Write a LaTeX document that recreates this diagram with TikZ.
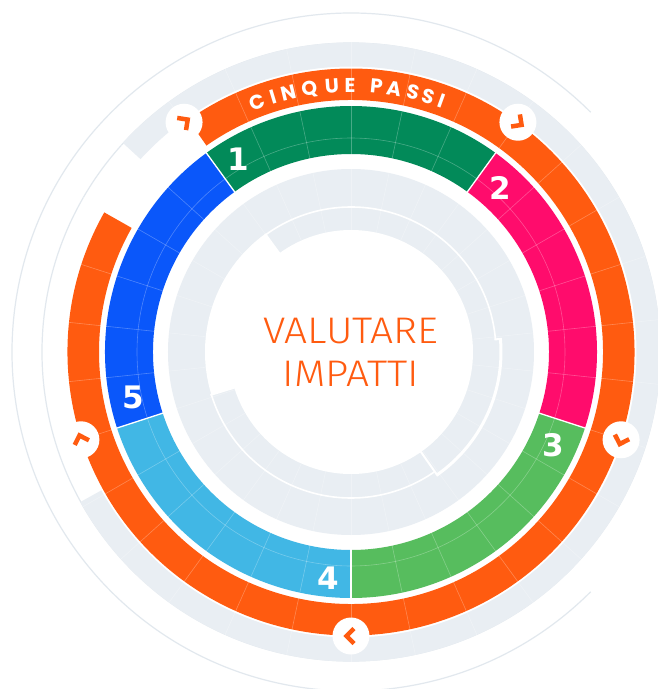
\documentclass[tikz,border=0pt]{standalone}
\usepackage{fontspec}
\newfontfamily\digitfont{DejaVu Sans}
\newfontfamily\popfont{Poppins}
\newfontfamily\lightfont{Fira Sans}[UprightFont=* Light]
\definecolor{cOr}{HTML}{FF5B10}
\definecolor{cGa}{HTML}{028A59}
\definecolor{cPk}{HTML}{FF0C6C}
\definecolor{cGb}{HTML}{57BD5E}
\definecolor{cCy}{HTML}{41B7E5}
\definecolor{cBl}{HTML}{0A57FA}
\definecolor{cGy}{HTML}{E9EEF3}
\definecolor{cLn}{HTML}{E2E8EE}
\newcommand\myband[5]{\fill[#5] (#1:#4) arc[start angle=#1,end angle=#2,radius=#4] -- (#2:#3) arc[start angle=#2,end angle=#1,radius=#3] -- cycle;}
\begin{document}
\begin{tikzpicture}[x=1pt,y=1pt,
  gridl/.style={white,opacity=0.28,line width=0.6pt},
  thinl/.style={cLn,line width=1.2pt},
  sepline/.style={white,line width=1.3pt},
  cutline/.style={white,line width=2pt},
  num/.style={text=white,font=\digitfont\bfseries\fontsize{31}{31}\selectfont,inner sep=0pt},
  letter/.style={text=white,font=\popfont\bfseries\fontsize{20}{20}\selectfont,inner sep=0pt,anchor=base},
  title/.style={text=cOr,font=\lightfont\fontsize{37}{37}\selectfont,inner sep=0pt,anchor=base,xscale=1.1},
  chevcirc/.style={circle,fill=white,minimum size=37pt,inner sep=0pt},
  chev/.style={cOr,line width=4.5pt,line join=miter}]
\useasboundingbox (-351,-337) rectangle (307,352);
\fill[white] (-351,-337) rectangle (307,352);
% outer thin lines
\draw[thinl] (45:339) arc[start angle=45,end angle=315,radius=339];
\draw[thinl] (0,0) circle[radius=309];
% outer gray band
\myband{-151}{137.5}{285.5}{309.5}{cGy}
% orange band
\myband{150.5}{485}{252}{283.5}{cOr}
% colour ring
\myband{54}{126}{198}{246}{cGa}
\myband{-18}{54}{198}{246}{cPk}
\myband{-90}{-18}{198}{246}{cGb}
\myband{198}{270}{198}{246}{cCy}
\myband{126}{198}{198}{246}{cBl}
% inner gray region
\fill[cGy] (0,0) circle[radius=183];
\fill[white] (0,0) circle[radius=122];
\myband{126}{197}{0}{146}{white}
% grid
\foreach \k in {0,...,29} \draw[gridl] ({90+12*\k}:122) -- ({90+12*\k}:309.5);
\draw[gridl] (0,0) circle[radius=214];
% segment separators
\foreach \a in {126,54,-18,-90,198} \draw[sepline] (\a:197) -- (\a:247);
% inner arcs details
\draw[white,line width=1.6pt] (5:145) arc[start angle=5,end angle=126,radius=145];
\draw[white,line width=3pt] (-55:150) arc[start angle=-55,end angle=5,radius=150];
\draw[white,line width=1.6pt] (197:146) arc[start angle=197,end angle=305,radius=146];
\draw[cutline] (126:121) -- (126:146);
\draw[cutline] (197:121) -- (197:147);
\draw[cutline] (-55:121) -- (-55:151.5);
\draw[cutline] (5:144) -- (5:151.5);
% chevron circles
\foreach \a/\nm in {126/ca,54/cb,-18/cc,-90/cd,198/ce}{
  \node[chevcirc] (\nm) at (\a:284) {};
  \begin{scope}[shift={(\nm.center)},rotate=\a-90]
    \draw[chev] (-3,7.5) -- (4.5,0) -- (-3,-7.5);
  \end{scope}
}
% numbers
\node[num] (n1) at (-112.5,192.5) {1};
\node[num] (n2) at (149,164.5) {2};
\node[num] (n3) at (202,-93) {3};
\node[num] (n4) at (-23,-226.5) {4};
\node[num] (n5) at (-218,-45.5) {5};
% curved title
\foreach \ch/\a [count=\i] in {C/110.5,I/106.9,N/103.6,Q/99.0,U/94.1,E/90.2,P/84.5,A/80.7,S/76.6,S/73.2,I/70.1}
  \node[letter,rotate=\a-90] (L\i) at (\a:260) {\ch};
% centre text
\node[title] (t1) at (0,9) {VALUTARE};
\node[title] (t2) at (0,-34) {IMPATTI};
\end{tikzpicture}
\end{document}
